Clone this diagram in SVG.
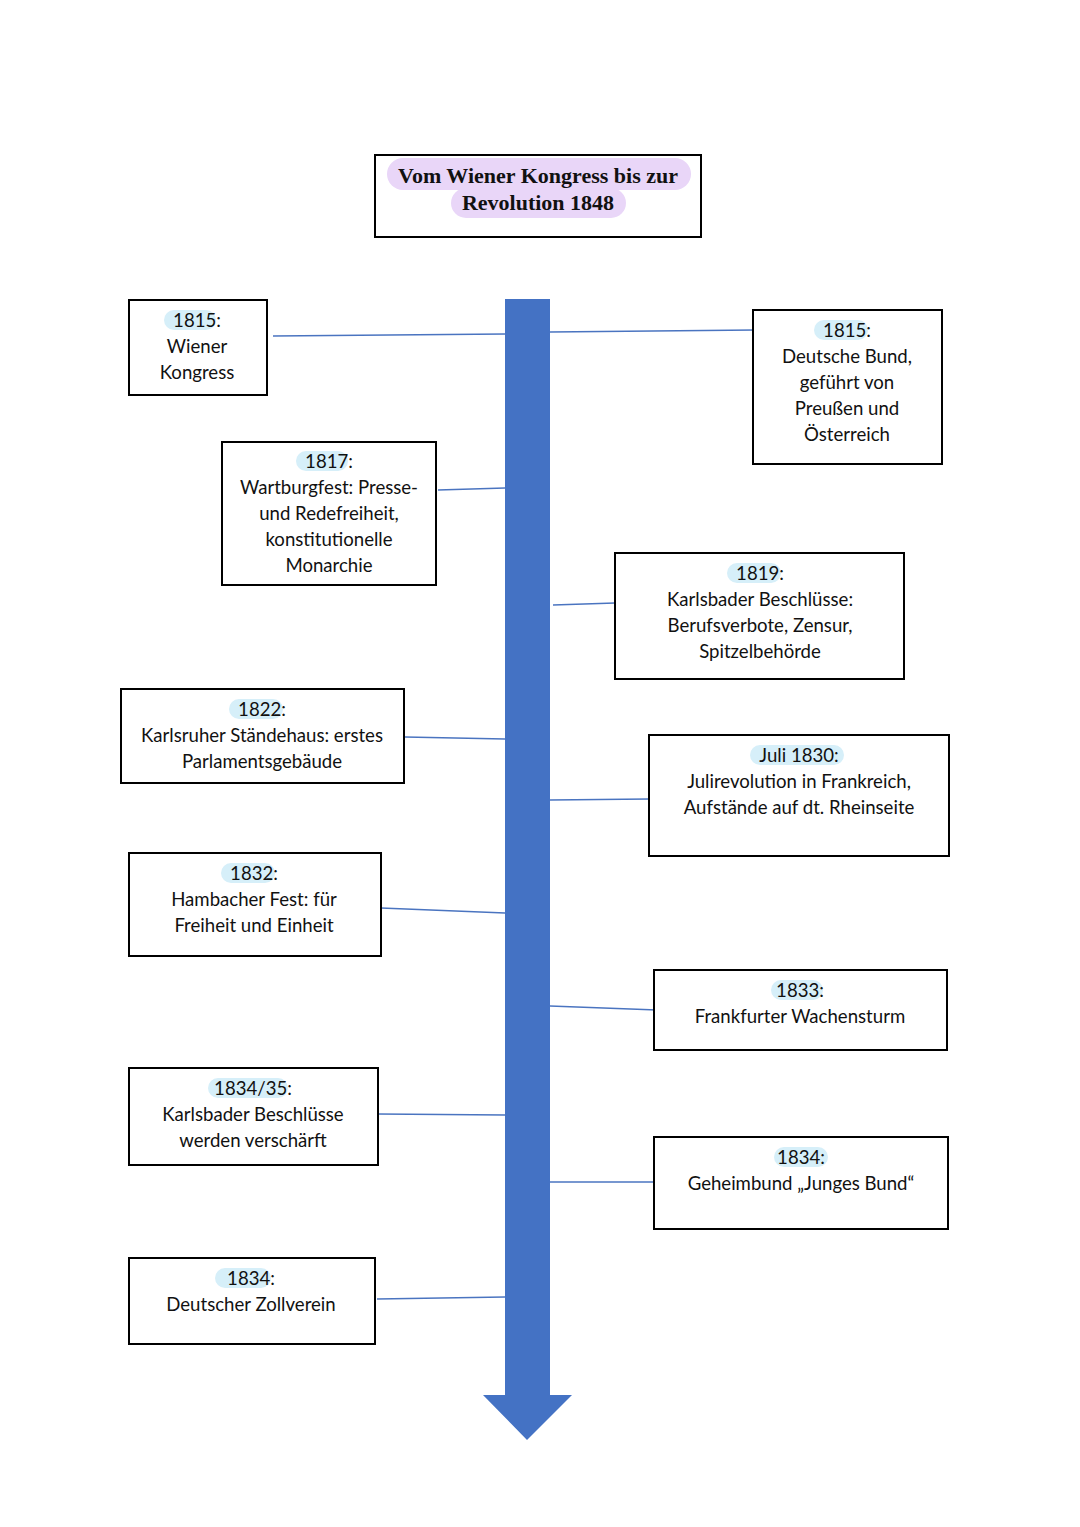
<svg xmlns="http://www.w3.org/2000/svg" width="1080" height="1527" viewBox="0 0 1080 1527">
<style>
.box{fill:#fff;stroke:#000;stroke-width:2}
.t{font-family:Lato,"Open Sans","Liberation Sans",sans-serif;font-size:18.6px;fill:#111;text-anchor:middle;dominant-baseline:central}
.ttl{font-family:"Liberation Serif","Times New Roman",serif;font-size:22px;font-weight:bold;fill:#111;text-anchor:middle;dominant-baseline:central}
.hl{fill:#d6eff9}
.pill{fill:#e9d6f8}
.con{stroke:#4a74c0;stroke-width:1.3;fill:none}
</style>
<rect width="1080" height="1527" fill="#fff"/>
<g id="title">
<rect class="box" x="375" y="155" width="326" height="82"/>
<rect class="pill" x="387" y="158" width="304" height="32" rx="16"/>
<rect class="pill" x="451" y="188" width="175" height="30" rx="15"/>
<text class="ttl" x="538" y="175">Vom Wiener Kongress bis zur</text>
<text class="ttl" x="538" y="202">Revolution 1848</text>
</g>
<g id="timeline">
<path d="M505,299 H550 V1395 H572 L527,1440 L483,1395 H505 Z" fill="#4472c4"/>
</g>
<g id="connectors">
<line class="con" x1="273" y1="336" x2="505" y2="334"/>
<line class="con" x1="550" y1="332" x2="755" y2="330"/>
<line class="con" x1="438" y1="490" x2="505" y2="488"/>
<line class="con" x1="553" y1="605" x2="615" y2="603"/>
<line class="con" x1="405" y1="737" x2="505" y2="739"/>
<line class="con" x1="550" y1="800" x2="649" y2="799"/>
<line class="con" x1="381" y1="908" x2="505" y2="913"/>
<line class="con" x1="550" y1="1006" x2="657" y2="1010"/>
<line class="con" x1="378" y1="1114" x2="505" y2="1115"/>
<line class="con" x1="550" y1="1182" x2="654" y2="1182"/>
<line class="con" x1="377" y1="1299" x2="505" y2="1297"/>
</g>
<g id="n1815a">
<rect class="box" x="129" y="300" width="138" height="95"/>
<rect class="hl" x="164" y="310" width="52" height="20" rx="10"/>
<text class="t" x="197" y="320">1815:</text>
<text class="t" x="197" y="346">Wiener</text>
<text class="t" x="197" y="372">Kongress</text>
</g>
<g id="n1815b">
<rect class="box" x="753" y="310" width="189" height="154"/>
<rect class="hl" x="814" y="320" width="54" height="20" rx="10"/>
<text class="t" x="847" y="330">1815:</text>
<text class="t" x="847" y="356">Deutsche Bund,</text>
<text class="t" x="847" y="382">geführt von</text>
<text class="t" x="847" y="408">Preußen und</text>
<text class="t" x="847" y="434">Österreich</text>
</g>
<g id="n1817">
<rect class="box" x="222" y="442" width="214" height="143"/>
<rect class="hl" x="296" y="451" width="52" height="20" rx="10"/>
<text class="t" x="329" y="461">1817:</text>
<text class="t" x="329" y="487">Wartburgfest: Presse-</text>
<text class="t" x="329" y="513">und Redefreiheit,</text>
<text class="t" x="329" y="539">konstitutionelle</text>
<text class="t" x="329" y="565">Monarchie</text>
</g>
<g id="n1819">
<rect class="box" x="615" y="553" width="289" height="126"/>
<rect class="hl" x="727" y="563" width="54" height="20" rx="10"/>
<text class="t" x="760" y="573">1819:</text>
<text class="t" x="760" y="599">Karlsbader Beschlüsse:</text>
<text class="t" x="760" y="625">Berufsverbote, Zensur,</text>
<text class="t" x="760" y="651">Spitzelbehörde</text>
</g>
<g id="n1822">
<rect class="box" x="121" y="689" width="283" height="94"/>
<rect class="hl" x="229" y="699" width="54" height="20" rx="10"/>
<text class="t" x="262" y="709">1822:</text>
<text class="t" x="262" y="735">Karlsruher Ständehaus: erstes</text>
<text class="t" x="262" y="761">Parlamentsgebäude</text>
</g>
<g id="n1830">
<rect class="box" x="649" y="735" width="300" height="121"/>
<rect class="hl" x="750" y="745" width="94" height="20" rx="10"/>
<text class="t" x="799" y="755">Juli 1830:</text>
<text class="t" x="799" y="781">Julirevolution in Frankreich,</text>
<text class="t" x="799" y="807">Aufstände auf dt. Rheinseite</text>
</g>
<g id="n1832">
<rect class="box" x="129" y="853" width="252" height="103"/>
<rect class="hl" x="221" y="863" width="54" height="20" rx="10"/>
<text class="t" x="254" y="873">1832:</text>
<text class="t" x="254" y="899">Hambacher Fest: für</text>
<text class="t" x="254" y="925">Freiheit und Einheit</text>
</g>
<g id="n1833">
<rect class="box" x="654" y="970" width="293" height="80"/>
<rect class="hl" x="771" y="980" width="52" height="20" rx="10"/>
<text class="t" x="800" y="990">1833:</text>
<text class="t" x="800" y="1016">Frankfurter Wachensturm</text>
</g>
<g id="n1834_35">
<rect class="box" x="129" y="1068" width="249" height="97"/>
<rect class="hl" x="208" y="1078" width="80" height="20" rx="10"/>
<text class="t" x="253" y="1088">1834/35:</text>
<text class="t" x="253" y="1114">Karlsbader Beschlüsse</text>
<text class="t" x="253" y="1140">werden verschärft</text>
</g>
<g id="n1834a">
<rect class="box" x="654" y="1137" width="294" height="92"/>
<rect class="hl" x="774" y="1147" width="54" height="20" rx="10"/>
<text class="t" x="801" y="1157">1834:</text>
<text class="t" x="801" y="1183">Geheimbund „Junges Bund“</text>
</g>
<g id="n1834b">
<rect class="box" x="129" y="1258" width="246" height="86"/>
<rect class="hl" x="215" y="1268" width="56" height="20" rx="10"/>
<text class="t" x="251" y="1278">1834:</text>
<text class="t" x="251" y="1304">Deutscher Zollverein</text>
</g>
</svg>
